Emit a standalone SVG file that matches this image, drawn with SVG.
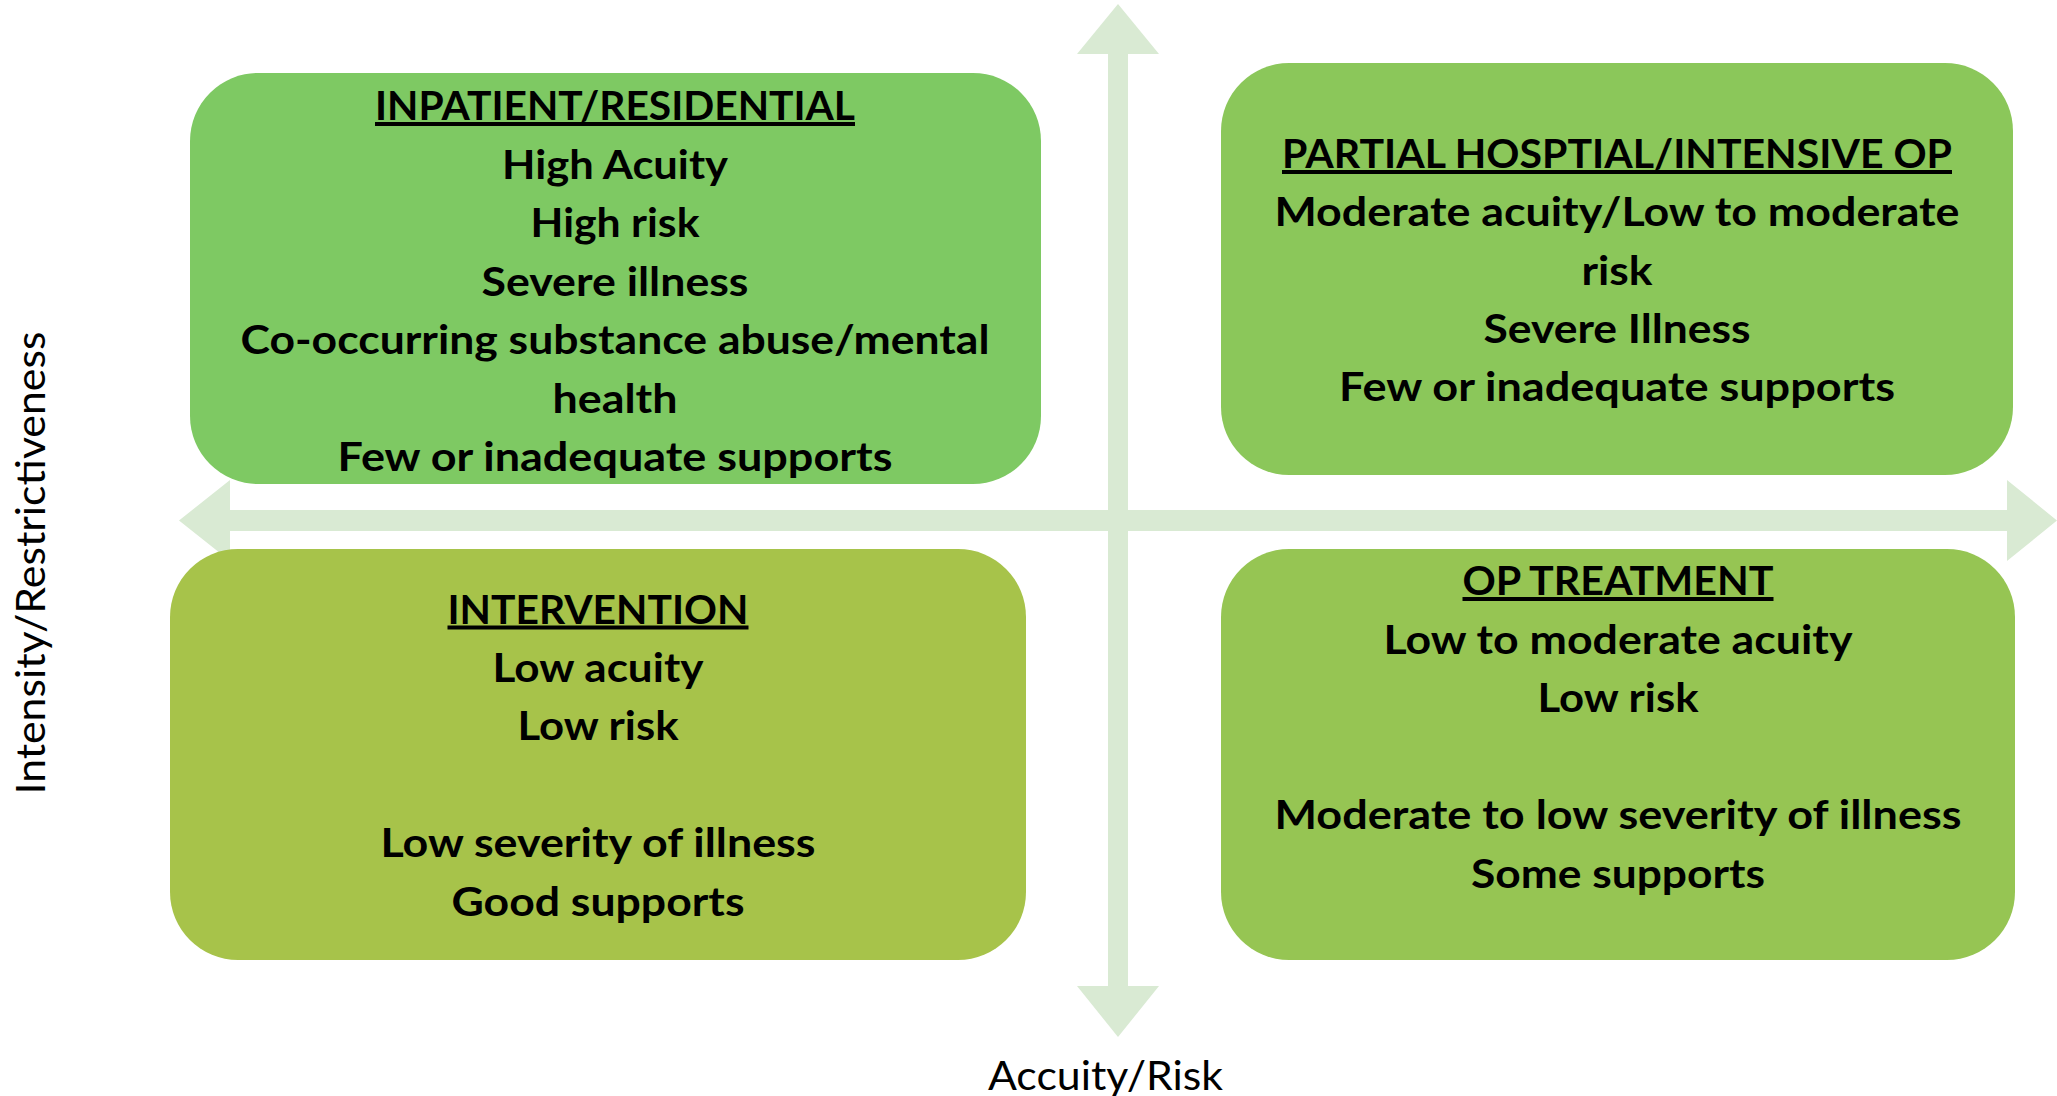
<svg xmlns="http://www.w3.org/2000/svg" width="2057" height="1096" viewBox="0 0 2057 1096">
  <style>
    .axis { fill: #D9EAD3; stroke: none; }
    .box { stroke: none; }
    .t { font-family: Lato, "Liberation Sans", sans-serif; font-weight: 700; font-size: 40px; fill: #000; text-anchor: middle; }
    .h { text-decoration: underline; }
    .lbl { font-family: Lato, "Liberation Sans", sans-serif; font-weight: 400; font-size: 40px; fill: #000; text-anchor: middle; }
  </style>
  <rect width="2057" height="1096" fill="#FFFFFF"/>

  <!-- axes: two double-headed block arrows -->
  <g id="connectors">
    <polygon class="axis" points="1118,4 1159,54 1128,54 1128,986 1159,986 1118,1037 1077,986 1108,986 1108,54 1077,54"/>
    <polygon class="axis" points="179,520.5 230,480 230,510 2007,510 2007,480 2057,520.5 2007,561 2007,531 230,531 230,561"/>
  </g>

  <g id="inpatient">
    <rect class="box" x="190" y="73" width="851" height="411" rx="68" ry="68" fill="#7EC963"/>
    <text class="t h" x="615" y="120" textLength="480" lengthAdjust="spacingAndGlyphs">INPATIENT/RESIDENTIAL</text>
    <text class="t" x="615" y="178.5" textLength="226" lengthAdjust="spacingAndGlyphs">High Acuity</text>
    <text class="t" x="615" y="237" textLength="169" lengthAdjust="spacingAndGlyphs">High risk</text>
    <text class="t" x="615" y="295.5" textLength="267" lengthAdjust="spacingAndGlyphs">Severe illness</text>
    <text class="t" x="615" y="354" textLength="749" lengthAdjust="spacingAndGlyphs">Co-occurring substance abuse/mental</text>
    <text class="t" x="615" y="412.5" textLength="125" lengthAdjust="spacingAndGlyphs">health</text>
    <text class="t" x="615" y="471" textLength="555" lengthAdjust="spacingAndGlyphs">Few or inadequate supports</text>
  </g>

  <g id="partial-hospital">
    <rect class="box" x="1221" y="63" width="792" height="412" rx="68" ry="68" fill="#8BC75A"/>
    <text class="t h" x="1617" y="168" textLength="670" lengthAdjust="spacingAndGlyphs">PARTIAL HOSPTIAL/INTENSIVE OP</text>
    <text class="t" x="1617" y="226" textLength="685" lengthAdjust="spacingAndGlyphs">Moderate acuity/Low to moderate</text>
    <text class="t" x="1617" y="284.5" textLength="71" lengthAdjust="spacingAndGlyphs">risk</text>
    <text class="t" x="1617" y="343" textLength="267" lengthAdjust="spacingAndGlyphs">Severe Illness</text>
    <text class="t" x="1617" y="401" textLength="556" lengthAdjust="spacingAndGlyphs">Few or inadequate supports</text>
  </g>

  <g id="intervention">
    <rect class="box" x="170" y="549" width="856" height="411" rx="68" ry="68" fill="#A7C34A"/>
    <text class="t h" x="598" y="623.5" textLength="301" lengthAdjust="spacingAndGlyphs">INTERVENTION</text>
    <text class="t" x="598" y="682" textLength="211" lengthAdjust="spacingAndGlyphs">Low acuity</text>
    <text class="t" x="598" y="740" textLength="161" lengthAdjust="spacingAndGlyphs">Low risk</text>
    <text class="t" x="598" y="857" textLength="435" lengthAdjust="spacingAndGlyphs">Low severity of illness</text>
    <text class="t" x="598" y="915.5" textLength="293" lengthAdjust="spacingAndGlyphs">Good supports</text>
  </g>

  <g id="op-treatment">
    <rect class="box" x="1221" y="549" width="794" height="411" rx="68" ry="68" fill="#96C553"/>
    <text class="t h" x="1618" y="595" textLength="311" lengthAdjust="spacingAndGlyphs">OP TREATMENT</text>
    <text class="t" x="1618" y="653.5" textLength="469" lengthAdjust="spacingAndGlyphs">Low to moderate acuity</text>
    <text class="t" x="1618" y="712" textLength="161" lengthAdjust="spacingAndGlyphs">Low risk</text>
    <text class="t" x="1618" y="829" textLength="687" lengthAdjust="spacingAndGlyphs">Moderate to low severity of illness</text>
    <text class="t" x="1618" y="887.5" textLength="294" lengthAdjust="spacingAndGlyphs">Some supports</text>
  </g>

  <g id="axis-labels">
    <text class="lbl" x="1105.5" y="1090" textLength="235" lengthAdjust="spacingAndGlyphs">Accuity/Risk</text>
    <text class="lbl" transform="translate(45,563) rotate(-90)" x="0" y="0" textLength="463" lengthAdjust="spacingAndGlyphs">Intensity/Restrictiveness</text>
  </g>
</svg>
